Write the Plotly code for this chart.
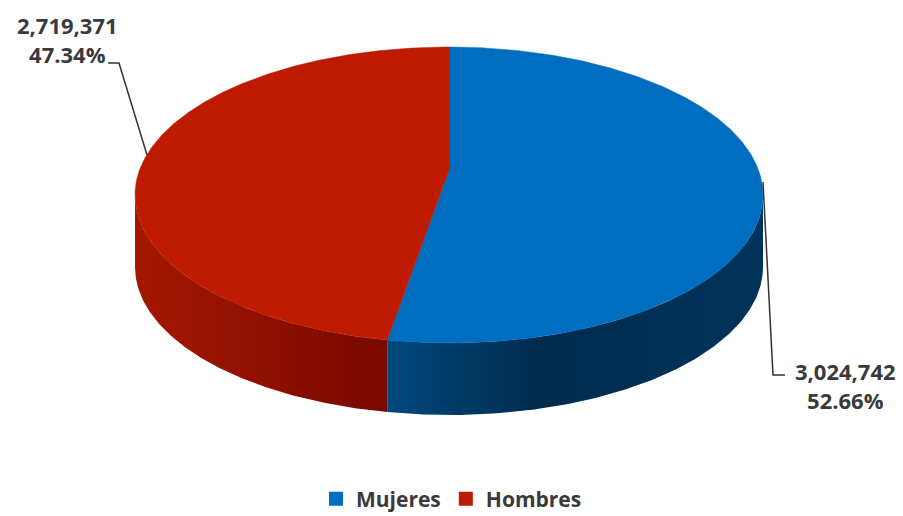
import numpy as np
import plotly.graph_objects as go

labels = ["Mujeres", "Hombres"]
values = [3024742, 2719371]
top_colors = ["#006EC0", "#BE1A00"]
side_scales = [
    [[0, "#00487E"], [0.4, "#002B4D"], [1, "#00335A"]],
    [[0, "#A51700"], [1, "#780800"]],
]

W, H = 903, 516
cx, cy, rx, ry, depth = 449, 195, 314, 148, 72
apex_shift = 25  # perspective: projected pie centre sits above ellipse centre

total = sum(values)
fracs = [v / total for v in values]

k = apex_shift / ry
phi = np.arctanh(k)
sh, ch = np.sinh(phi), np.cosh(phi)

def pt(t_deg, dy=0.0):
    t = np.radians(np.asarray(t_deg, dtype=float))
    u, v = np.sin(t), np.cos(t)
    d = v * sh + ch
    up, vp = u / d, (v * ch + sh) / d
    return cx + rx * up, cy - ry * vp + dy

vis0 = np.degrees(np.arccos(-k))
vis1 = 360 - vis0

fig = go.Figure()

starts = np.cumsum([0] + fracs[:-1]) * 360
ends = np.cumsum(fracs) * 360

for i in range(len(values)):
    a0, a1 = max(starts[i], vis0), min(ends[i], vis1)
    if a1 <= a0:
        continue
    ts = np.linspace(a0, a1, 160)
    xt, yt = pt(ts)
    xb, yb = pt(ts[::-1], depth)
    xs = np.concatenate([xt, xb, xt[:1]])
    ys = np.concatenate([yt, yb, yt[:1]])
    fig.add_trace(go.Scatter(x=xs, y=ys, mode="lines", fill="toself",
                             line=dict(width=0, color=side_scales[i][0][1]),
                             fillgradient=dict(type="horizontal", colorscale=side_scales[i]),
                             hoverinfo="skip", showlegend=False))

ax, ay = cx, cy - apex_shift
for i in range(len(values)):
    ts = np.linspace(starts[i], ends[i], 400)
    xa, ya = pt(ts)
    xs = np.concatenate([[ax], xa, [ax]])
    ys = np.concatenate([[ay], ya, [ay]])
    fig.add_trace(go.Scatter(x=xs, y=ys, mode="lines", fill="toself",
                             fillcolor=top_colors[i], line=dict(width=0.5, color=top_colors[i]),
                             hoverinfo="skip", showlegend=False))

for i in range(len(values)):
    fig.add_trace(go.Scatter(x=[None], y=[None], mode="markers", name=labels[i],
                             marker=dict(symbol="square", size=14, color=top_colors[i])))

font = dict(family="Open Sans", size=22, color="#3a3a3a", weight="bold")
fig.add_trace(go.Scatter(x=[108, 119, 147], y=[63, 63, 155], mode="lines",
                         line=dict(color="#333333", width=1.5), hoverinfo="skip", showlegend=False))
fig.add_trace(go.Scatter(x=[763, 773, 785], y=[182, 375, 375], mode="lines",
                         line=dict(color="#333333", width=1.5), hoverinfo="skip", showlegend=False))

def lab(i):
    return f"{values[i]:,}<br>{fracs[i]*100:.2f}%"

fig.add_annotation(x=67, y=39, text=lab(1), showarrow=False, font=font, align="center",
                   xanchor="center", yanchor="middle")
fig.add_annotation(x=845, y=385, text=lab(0), showarrow=False, font=font, align="center",
                   xanchor="center", yanchor="middle")

fig.update_layout(
    width=W, height=H, margin=dict(l=0, r=0, t=0, b=0, autoexpand=False),
    paper_bgcolor="white", plot_bgcolor="white",
    xaxis=dict(range=[0, W], visible=False, fixedrange=True),
    yaxis=dict(range=[H, 0], visible=False, fixedrange=True),
    legend=dict(orientation="h", x=0.5, xanchor="center", y=1 - 499 / H, yanchor="middle",
                font=dict(family="Open Sans", size=21, color="#3a3a3a", weight="bold"),
                itemwidth=30, bgcolor="rgba(0,0,0,0)"),
    showlegend=True,
)

fig.write_html("out.html")
